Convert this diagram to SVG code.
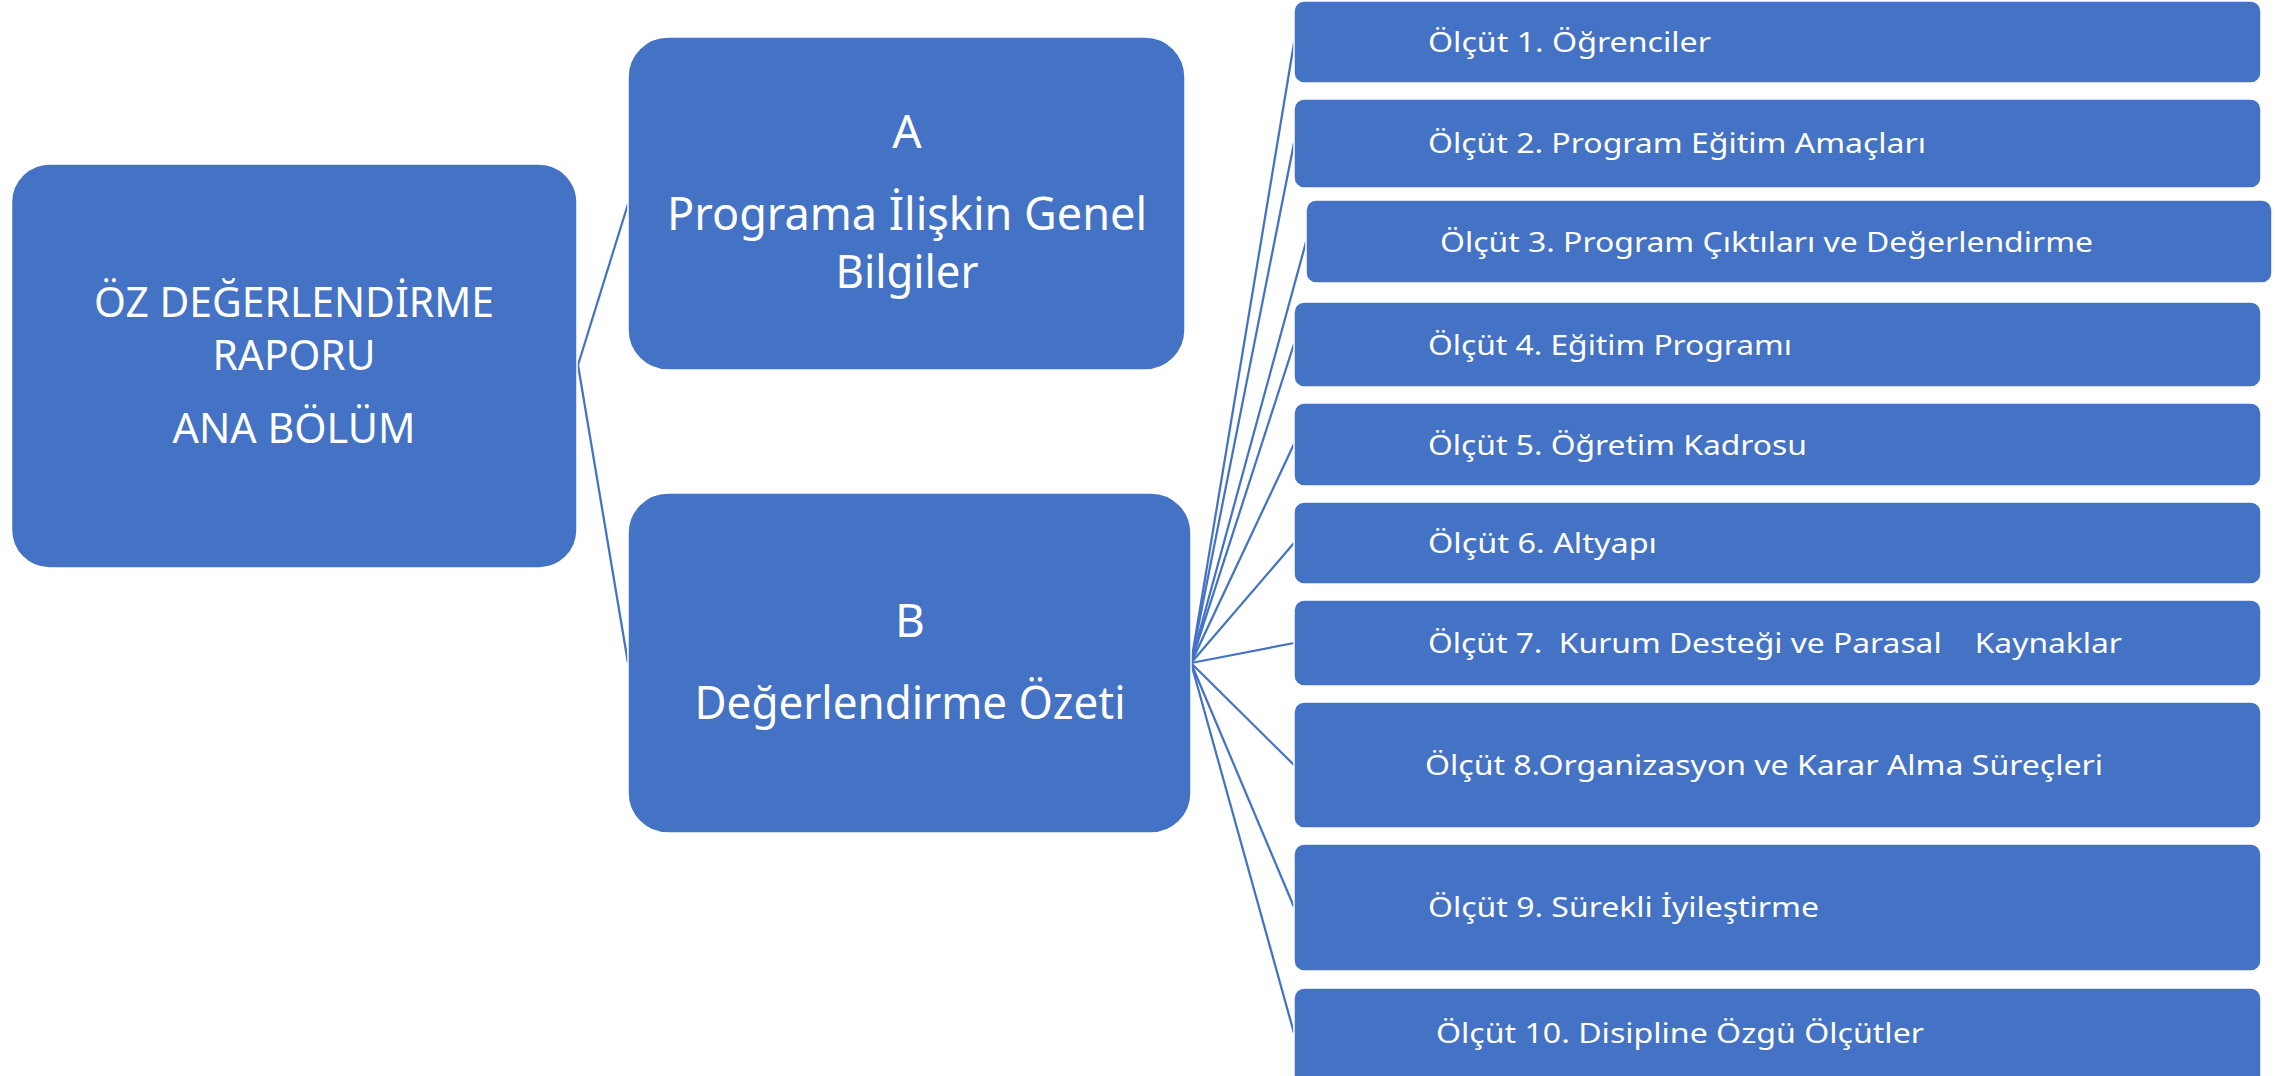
<svg xmlns="http://www.w3.org/2000/svg" width="2275" height="1076" viewBox="0 0 2275 1076">
<style>
.box{fill:#4472C4;stroke:#ffffff;stroke-width:1.5;}
.lbl{fill:#ffffff;font-family:"Noto Sans","Open Sans","DejaVu Sans",sans-serif;}
.big{font-size:42px;text-anchor:middle;}
.mid{font-size:46px;text-anchor:middle;}
.sm{font-size:28px;white-space:pre;}
.con{stroke:#4472C4;stroke-width:2.25;fill:none;}
</style>
<rect width="2275" height="1076" fill="#ffffff"/>
<g id="connectors">
<line class="con" x1="578" y1="365" x2="628" y2="204"/>
<line class="con" x1="578" y1="365" x2="628" y2="663"/>
<line class="con" x1="1191" y1="663" x2="1294" y2="43"/>
<line class="con" x1="1191" y1="663" x2="1294" y2="143"/>
<line class="con" x1="1191" y1="663" x2="1306" y2="242"/>
<line class="con" x1="1191" y1="663" x2="1294" y2="344"/>
<line class="con" x1="1191" y1="663" x2="1294" y2="444"/>
<line class="con" x1="1191" y1="663" x2="1294" y2="543"/>
<line class="con" x1="1191" y1="663" x2="1294" y2="643"/>
<line class="con" x1="1191" y1="663" x2="1294" y2="765"/>
<line class="con" x1="1191" y1="663" x2="1294" y2="907"/>
<line class="con" x1="1191" y1="663" x2="1294" y2="1033"/>
</g>
<g id="root">
<rect class="box" x="11.5" y="164" width="565.5" height="404" rx="38" ry="38"/>
<text class="lbl big" x="294" y="317" textLength="400" lengthAdjust="spacingAndGlyphs">ÖZ DEĞERLENDİRME</text>
<text class="lbl big" x="294" y="370" textLength="163" lengthAdjust="spacingAndGlyphs">RAPORU</text>
<text class="lbl big" x="294" y="443" textLength="243" lengthAdjust="spacingAndGlyphs">ANA BÖLÜM</text>
</g>
<g id="nodeA">
<rect class="box" x="628" y="37" width="557" height="333" rx="40" ry="40"/>
<text class="lbl mid" x="907" y="148">A</text>
<text class="lbl mid" x="907" y="230" textLength="480" lengthAdjust="spacingAndGlyphs">Programa İlişkin Genel</text>
<text class="lbl mid" x="907" y="288" textLength="143" lengthAdjust="spacingAndGlyphs">Bilgiler</text>
</g>
<g id="nodeB">
<rect class="box" x="628" y="493" width="563" height="340" rx="40" ry="40"/>
<text class="lbl mid" x="910" y="637">B</text>
<text class="lbl mid" x="910" y="719" textLength="431" lengthAdjust="spacingAndGlyphs">Değerlendirme Özeti</text>
</g>
<g id="c1">
<rect class="box" x="1294" y="1" width="967" height="82" rx="10" ry="10"/>
<text class="lbl sm" x="1428" y="52" textLength="283" lengthAdjust="spacingAndGlyphs">Ölçüt 1. Öğrenciler</text>
</g>
<g id="c2">
<rect class="box" x="1294" y="99" width="967" height="89" rx="10" ry="10"/>
<text class="lbl sm" x="1428" y="153" textLength="498" lengthAdjust="spacingAndGlyphs">Ölçüt 2. Program Eğitim Amaçları</text>
</g>
<g id="c3">
<rect class="box" x="1306" y="200" width="966" height="83" rx="10" ry="10"/>
<text class="lbl sm" x="1440" y="252" textLength="653" lengthAdjust="spacingAndGlyphs">Ölçüt 3. Program Çıktıları ve Değerlendirme</text>
</g>
<g id="c4">
<rect class="box" x="1294" y="302" width="967" height="85" rx="10" ry="10"/>
<text class="lbl sm" x="1428" y="355" textLength="364" lengthAdjust="spacingAndGlyphs">Ölçüt 4. Eğitim Programı</text>
</g>
<g id="c5">
<rect class="box" x="1294" y="403" width="967" height="83" rx="10" ry="10"/>
<text class="lbl sm" x="1428" y="455" textLength="379" lengthAdjust="spacingAndGlyphs">Ölçüt 5. Öğretim Kadrosu</text>
</g>
<g id="c6">
<rect class="box" x="1294" y="502" width="967" height="82" rx="10" ry="10"/>
<text class="lbl sm" x="1428" y="553" textLength="229" lengthAdjust="spacingAndGlyphs">Ölçüt 6. Altyapı</text>
</g>
<g id="c7">
<rect class="box" x="1294" y="600" width="967" height="86" rx="10" ry="10"/>
<text class="lbl sm" x="1428" y="653" textLength="694" lengthAdjust="spacingAndGlyphs">Ölçüt 7.  Kurum Desteği ve Parasal    Kaynaklar</text>
</g>
<g id="c8">
<rect class="box" x="1294" y="702" width="967" height="126" rx="10" ry="10"/>
<text class="lbl sm" x="1425" y="775" textLength="678" lengthAdjust="spacingAndGlyphs">Ölçüt 8.Organizasyon ve Karar Alma Süreçleri</text>
</g>
<g id="c9">
<rect class="box" x="1294" y="844" width="967" height="127" rx="10" ry="10"/>
<text class="lbl sm" x="1428" y="917" textLength="391" lengthAdjust="spacingAndGlyphs">Ölçüt 9. Sürekli İyileştirme</text>
</g>
<g id="c10">
<rect class="box" x="1294" y="988" width="967" height="100" rx="10" ry="10"/>
<text class="lbl sm" x="1436" y="1043" textLength="488" lengthAdjust="spacingAndGlyphs">Ölçüt 10. Disipline Özgü Ölçütler</text>
</g>
</svg>
